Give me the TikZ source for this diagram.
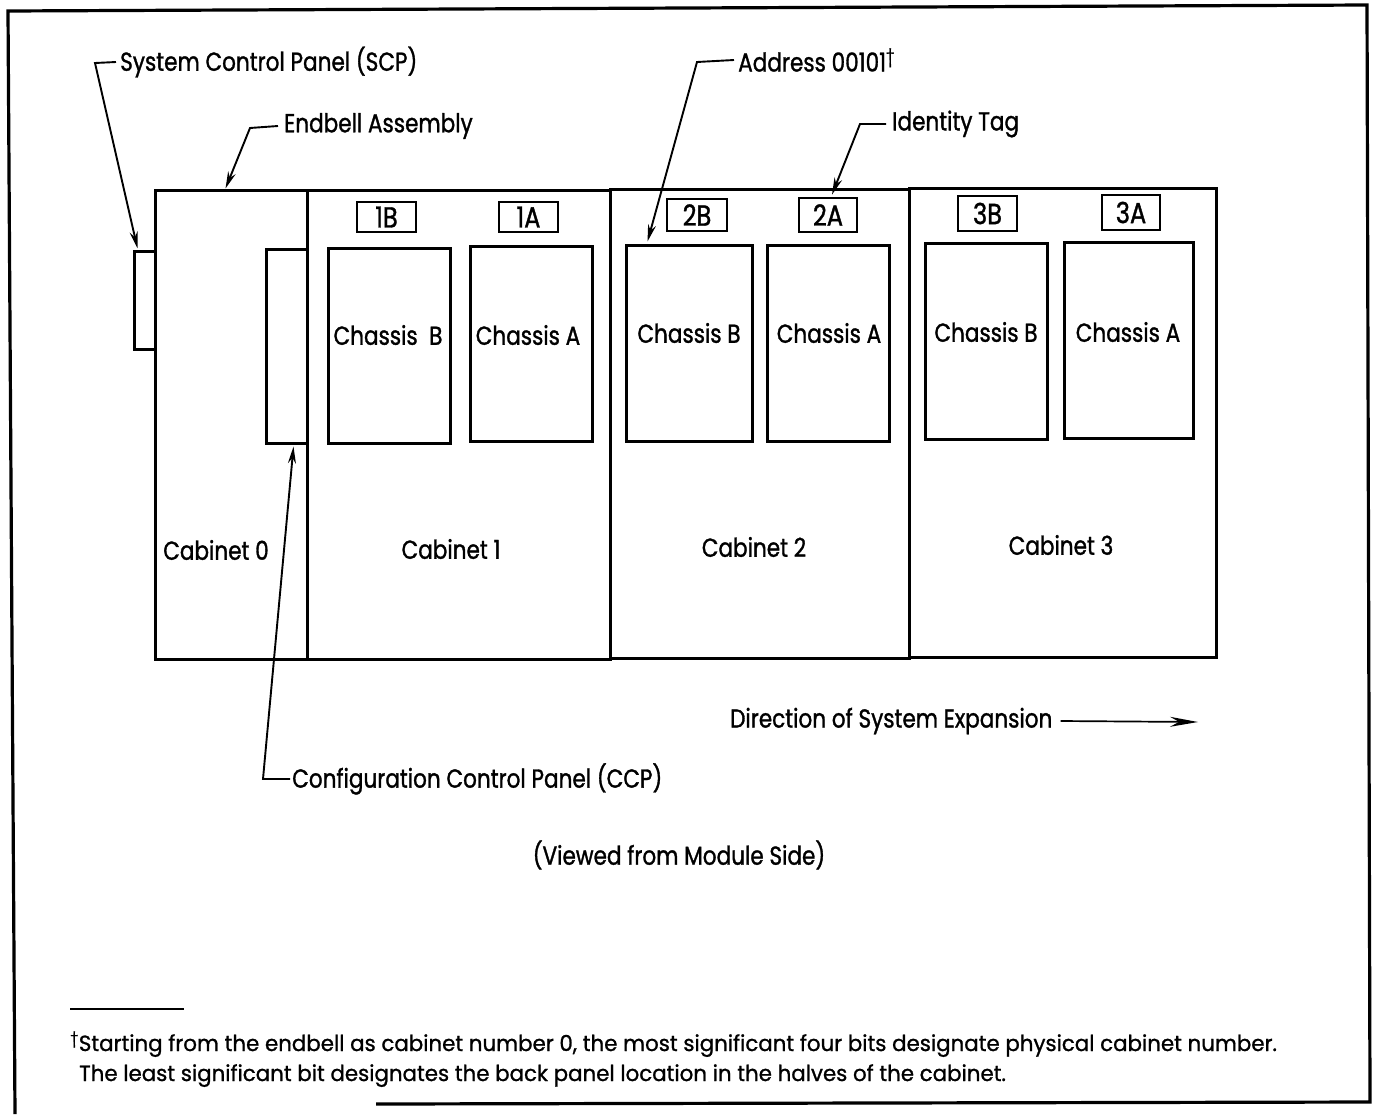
\documentclass[tikz,border=0pt]{standalone}
\usepackage{fontspec}
\setmainfont{Poppins}
\newfontfamily\lblfont[FakeStretch=0.83,FakeBold=1.2]{Poppins}
\newfontfamily\notefont[FakeStretch=0.97,FakeBold=1]{Poppins}
\usetikzlibrary{arrows.meta,fit,calc}
\begin{document}
\begin{tikzpicture}[x=1pt,y=-1pt,
  heavy/.style={line width=3.2pt},
  boxs/.style={draw, line width=3pt, inner sep=0pt},
  tagbox/.style={draw, line width=2.8pt, inner sep=0pt},
  lbl/.style={font=\lblfont\fontsize{26}{30}\selectfont, inner sep=0pt},
  taglbl/.style={font=\lblfont\fontsize{29}{30}\selectfont, inner sep=0pt},
  note/.style={font=\notefont\fontsize{22}{26}\selectfont, inner sep=0pt},
  leader/.style={line width=1.9pt, -{Stealth[length=17pt,width=8pt]}},
]
\useasboundingbox (0,0) rectangle (1375,1114);
% frame
\draw[heavy] (15,1114) -- (8,11) -- (1367,5) -- (1370,1102) -- (376,1104);
% cabinets
\node[boxs, fit={(155,190) (307,659)}] (cab0) {};
\node[boxs, fit={(307,190) (610,659)}] (cab1) {};
\node[boxs, fit={(610,189) (909,658)}] (cab2) {};
\node[boxs, fit={(909,188) (1216,657)}] (cab3) {};
% panels
\node[boxs, fit={(134,251) (155,349)}] (scp) {};
\node[boxs, fit={(266,249) (307,443)}] (ccp) {};
% chassis
\node[boxs, fit={(328,248) (450,443)}] (c1b) {};
\node[boxs, fit={(470,246) (592,441)}] (c1a) {};
\node[boxs, fit={(626,245) (752,441)}] (c2b) {};
\node[boxs, fit={(767,245) (889,441)}] (c2a) {};
\node[boxs, fit={(925,243) (1047,439)}] (c3b) {};
\node[boxs, fit={(1064,242) (1193,438)}] (c3a) {};
% tags
\node[tagbox, fit={(357,202) (416,232)}] (t1b) {};
\node[tagbox, fit={(499,202) (558,232)}] (t1a) {};
\node[tagbox, fit={(667,199) (727,231)}] (t2b) {};
\node[tagbox, fit={(799,198) (857,232)}] (t2a) {};
\node[tagbox, fit={(958,196) (1017,231)}] (t3b) {};
\node[tagbox, fit={(1102,195) (1160,230)}] (t3a) {};
\node[taglbl] at (t1b.center) {1B};
\node[taglbl] at (t1a.center) {1A};
\node[taglbl] at (t2b.center) {2B};
\node[taglbl] at (t2a.center) {2A};
\node[taglbl] at (t3b.center) {3B};
\node[taglbl] at (t3a.center) {3A};
% chassis labels
\node[lbl] at (388,335) {Chassis\ \ B};
\node[lbl] at (528,335) {Chassis A};
\node[lbl] at (689,333) {Chassis B};
\node[lbl] at (829,333) {Chassis A};
\node[lbl] at (986,332) {Chassis B};
\node[lbl] at (1128,332) {Chassis A};
% cabinet labels
\node[lbl] at (216,550) {Cabinet 0};
\node[lbl] at (451,549) {Cabinet 1};
\node[lbl] at (754,547) {Cabinet 2};
\node[lbl] at (1061,545) {Cabinet 3};
% callouts
\node[lbl, anchor=west] (scpL) at (120,62) {System Control Panel (SCP)};
\coordinate (scpK) at (95,63);
\draw[leader] ([xshift=-4pt]scpL.west) -- (scpK) -- ($(scp.north west)+(5,-1)$);
\node[lbl, anchor=west] (endL) at (284,126) {Endbell Assembly};
\coordinate (endK) at (250,128);
\draw[leader] ([xshift=-6pt]endL.west) -- (endK) -- ($(cab0.north west)+(72,0)$);
\node[lbl, anchor=west] (addrL) at (738,60) {Address 00101\textsuperscript{†}};
\coordinate (addrK) at (697,62);
\draw[leader] ([xshift=-4pt]addrL.west) -- (addrK) -- ($(c2b.north west)+(23,-2)$);
\node[lbl, anchor=west] (idL) at (892,124) {Identity Tag};
\coordinate (idK) at (860,124);
\draw[leader] ([xshift=-6pt]idL.west) -- (idK) -- ($(t2a.north)+(4,-2)$);
\node[lbl, anchor=west] (ccpL) at (292,779) {Configuration Control Panel (CCP)};
\coordinate (ccpK) at (263,779);
\draw[leader] ([xshift=-2pt]ccpL.west) -- (ccpK) -- ($(ccp.south east)+(-15,2)$);
\node[lbl, anchor=west] (dirL) at (730,721) {Direction of System Expansion};
\coordinate (dirE) at (1198,722);
\draw[line width=1.7pt, -{Stealth[length=28pt,width=10pt]}] ([xshift=8pt]dirL.east) -- (dirE);
\node[lbl] (view) at (679,855) {(Viewed from Module Side)};
% footnote
\coordinate (fnA) at (70,1009);
\coordinate (fnB) at (184,1009);
\draw[line width=1.9pt] (fnA) -- (fnB);
\node[note, anchor=base west] (fn1) at (70,1051) {\textsuperscript{†}Starting from the endbell as cabinet number 0, the most significant four bits designate physical cabinet number.};
\node[note, anchor=base west] (fn2) at (79,1081) {The least significant bit designates the back panel location in the halves of the cabinet.};
\end{tikzpicture}
\end{document}
